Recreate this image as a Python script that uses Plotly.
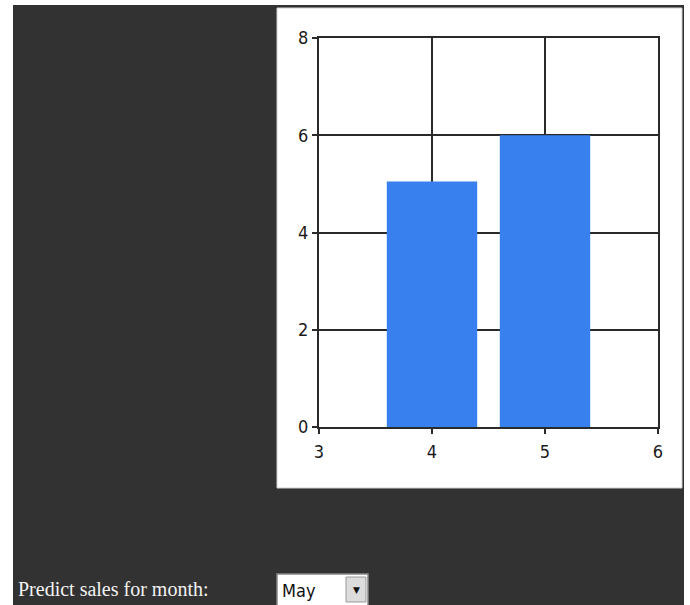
import plotly.graph_objects as go

months = [4, 5]
sales = [5.05, 6.0]
x_ticks = [3, 4, 5, 6]
y_ticks = [0, 2, 4, 6, 8]
label_text = "Predict sales for month:"
selected_month = "May"

W, H = 690, 605
L, R, T, B = 319, 658, 38, 427  # plot area in pixels


def px(x):
    return (x - L) / (R - L)


def py(y):
    return (B - y) / (B - T)


fig = go.Figure(go.Bar(x=months, y=sales, width=0.8,
                       marker=dict(color="#3880ee", line=dict(width=0))))

shapes = [
    dict(type="rect", xref="paper", yref="paper", x0=px(13), x1=px(684), y0=py(605), y1=py(5),
         fillcolor="#323232", line=dict(width=0), layer="below"),
    dict(type="rect", xref="paper", yref="paper", x0=px(277), x1=px(682), y0=py(488), y1=py(8),
         fillcolor="white", line=dict(color="#d0d0d0", width=1), layer="below"),
    # dropdown
    dict(type="rect", xref="paper", yref="paper", x0=px(277), x1=px(368), y0=py(606), y1=py(574),
         fillcolor="white", line=dict(color="#888888", width=1.5), layer="above"),
    dict(type="rect", xref="paper", yref="paper", x0=px(346), x1=px(366), y0=py(602), y1=py(577),
         fillcolor="#dcdcdc", line=dict(color="#999999", width=1), layer="above"),
]

annotations = [
    dict(text=label_text, xref="paper", yref="paper", x=px(16), y=py(589), xanchor="left",
         yanchor="middle", showarrow=False,
         font=dict(family="Liberation Serif", size=20, color="#f2f2f2")),
    dict(text=selected_month, xref="paper", yref="paper", x=px(280), y=py(590), xanchor="left",
         yanchor="middle", showarrow=False,
         font=dict(family="DejaVu Sans Condensed, DejaVu Sans", size=18, color="#111111")),
    dict(text="▼", xref="paper", yref="paper", x=px(356), y=py(590), xanchor="center",
         yanchor="middle", showarrow=False,
         font=dict(family="DejaVu Sans", size=9, color="#111111")),
]

axis_common = dict(showgrid=True, gridcolor="#2a2a2a", gridwidth=1.5,
                   showline=True, linecolor="#2a2a2a", linewidth=2, mirror=True,
                   ticks="outside", ticklen=5, tickcolor="#2a2a2a", tickwidth=1.5,
                   zeroline=False,
                   tickfont=dict(family="DejaVu Sans Condensed, DejaVu Sans", size=18, color="#1a1a1a"))

fig.update_layout(
    width=W, height=H,
    margin=dict(l=L, r=W - R, t=T, b=H - B),
    paper_bgcolor="white", plot_bgcolor="white",
    showlegend=False,
    shapes=shapes, annotations=annotations,
    xaxis=dict(range=[3, 6], tickvals=x_ticks, ticklabelstandoff=2, **axis_common),
    yaxis=dict(range=[0, 8], tickvals=y_ticks, ticklabelstandoff=0, **axis_common),
    bargap=0.2,
)

fig.write_html("out.html")
